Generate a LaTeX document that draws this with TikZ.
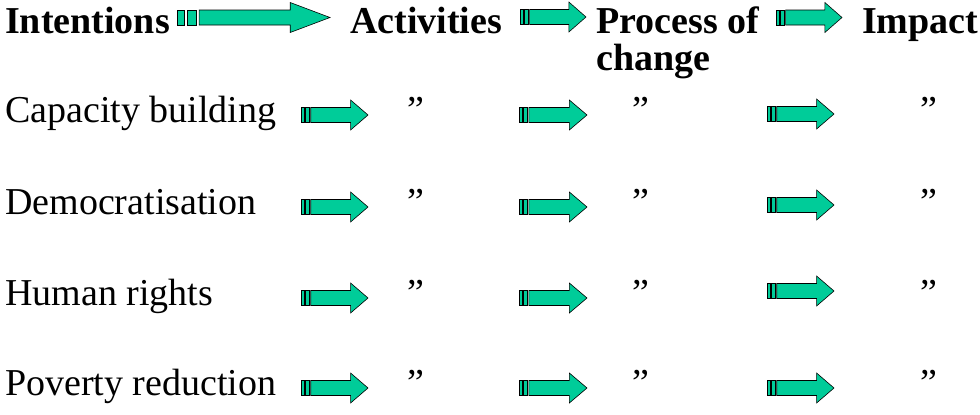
\documentclass[tikz,border=0pt]{standalone}
\usepackage{fontspec}
\setmainfont{Liberation Serif}
\usepackage{xcolor}
\usetikzlibrary{positioning}
\definecolor{arrowGreen}{HTML}{00CC99}
\tikzstyle{rowText}  =[anchor=base west,inner sep=0pt,font=\fontsize{38}{40}\selectfont]
\tikzstyle{headText} =[rowText,font=\fontsize{38}{40}\selectfont\bfseries]
\tikzset{blockArrow/.style={draw=black,fill=arrowGreen,line width=0.6pt},
    pics/stripearrow/.style={code={
        \path[blockArrow] (0,-7.5) rectangle ({0.045*#1},7.5);
        \path[blockArrow] ({0.065*#1},-7.5) rectangle ({0.125*#1},7.5);
        \path[blockArrow] ({0.145*#1},-7.5) -- ({0.74*#1},-7.5) -- ({0.74*#1},-15)
            -- (#1,0) -- ({0.74*#1},15) -- ({0.74*#1},7.5) -- ({0.145*#1},7.5) -- cycle;
    }}
}

\begin{document}
\begin{tikzpicture}[x=1pt,y=-1pt]
      \useasboundingbox (0,0) rectangle (980,415);
      % header
      \node[headText] (intentions) at (5,33) {Intentions};
      \node[headText] (activities) at (350,33) {Activities};
      \node[headText] (process) at (596,33) {Process of};
      \node[headText] (change) [below=37pt of process.base west,anchor=base west] {change};
      \node[headText] (impact) at (862,33) {Impact};
      \pic at (177,17.5) {stripearrow=153};
      \pic at (520,17) {stripearrow=66};
      \pic at (776,17.5) {stripearrow=66};
      % rows
      \node[rowText] (capacity) at (5,122) {Capacity building};
      \node[rowText] (democ) at (5,214) {Democratisation};
      \node[rowText] (rights) at (5,305) {Human rights};
      \node[rowText] (poverty) at (5,395) {Poverty reduction};
      \node[rowText] (q11) at (407,122) {”};
      \node[rowText] (q12) at (632,122) {”};
      \node[rowText] (q13) at (920,122) {”};
      \node[rowText] (q21) at (407,214) {”};
      \node[rowText] (q22) at (632,214) {”};
      \node[rowText] (q23) at (920,214) {”};
      \node[rowText] (q31) at (407,305) {”};
      \node[rowText] (q32) at (632,305) {”};
      \node[rowText] (q33) at (920,305) {”};
      \node[rowText] (q41) at (407,395) {”};
      \node[rowText] (q42) at (632,395) {”};
      \node[rowText] (q43) at (920,395) {”};
      \pic at (301,115) {stripearrow=67};
      \pic at (519,115) {stripearrow=68};
      \pic at (767,114) {stripearrow=67};
      \pic at (301,207) {stripearrow=67};
      \pic at (519,207) {stripearrow=68};
      \pic at (767,205) {stripearrow=67};
      \pic at (301,298) {stripearrow=67};
      \pic at (519,298) {stripearrow=68};
      \pic at (767,291) {stripearrow=67};
      \pic at (301,388) {stripearrow=67};
      \pic at (519,388) {stripearrow=68};
      \pic at (767,388) {stripearrow=67};
    \end{tikzpicture}
\end{document}
